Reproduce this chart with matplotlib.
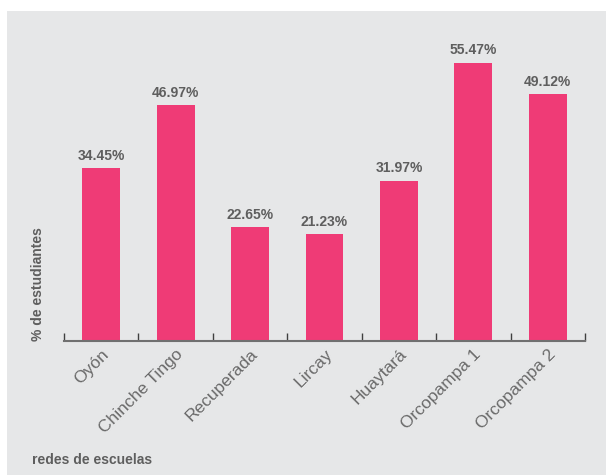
import numpy as np
import matplotlib.pyplot as plt
from matplotlib.patches import Rectangle

redes = ['Oyón', 'Chinche Tingo', 'Recuperada', 'Lircay', 'Huaytará',
         'Orcopampa 1', 'Orcopampa 2']
porcentajes = [34.45, 46.97, 22.65, 21.23, 31.97, 55.47, 49.12]

bg = '#e6e7e8'
pink = '#ef3b76'
txt = '#5e5e5e'

plt.rcParams['font.family'] = ['Liberation Sans', 'DejaVu Sans']

fig = plt.figure(figsize=(6.06, 4.75), dpi=100, facecolor='white')
# gray panel
fig.patches.append(Rectangle((7 / 606, 0), 1.1, 1 - 11 / 475, transform=fig.transFigure,
                             facecolor=bg, edgecolor='none', zorder=-5))

W, H = 606, 475
left, right, bottom, top = 64, 585, 341, 20
ax = fig.add_axes([left / W, 1 - bottom / H, (right - left) / W, (bottom - top) / H])
ax.set_facecolor('none')
ax.set_zorder(2)

x = np.arange(len(redes))
ax.bar(x, porcentajes, width=0.51, color=pink, zorder=2)
for xi, v in zip(x, porcentajes):
    ax.annotate(f'{v:.2f}%', (xi, v), xytext=(0, 4), textcoords='offset points',
                ha='center', va='bottom', fontsize=10, fontweight='bold', color=txt)

ax.set_xlim(-0.5, len(redes) - 0.5)
ax.set_ylim(0, (bottom - top) / 5.02)

for s in ['top', 'right', 'left']:
    ax.spines[s].set_visible(False)
ax.spines['bottom'].set_color('#707070')
ax.spines['bottom'].set_linewidth(1.5)
ax.set_yticks([])

# ticks between bars, pointing up
ax.set_xticks(np.arange(-0.5, len(redes)), minor=True)
ax.tick_params(axis='x', which='minor', direction='in', length=6, width=1, color='#404040')
ax.set_xticks(x)
ax.tick_params(axis='x', which='major', length=0, pad=4)
ax.set_xticklabels(redes, rotation=45, ha='right', rotation_mode='anchor',
                   fontsize=12.5, color='#6a6a6a')

fig.text(38 / W, 1 - 284 / H, '% de estudiantes', rotation=90, ha='center', va='center',
         fontsize=10, fontweight='bold', color=txt)
fig.text(32 / W, 1 - 460 / H, 'redes de escuelas', ha='left', va='center',
         fontsize=10, fontweight='bold', color=txt)

fig.savefig('out.png', dpi=100, facecolor='white')
